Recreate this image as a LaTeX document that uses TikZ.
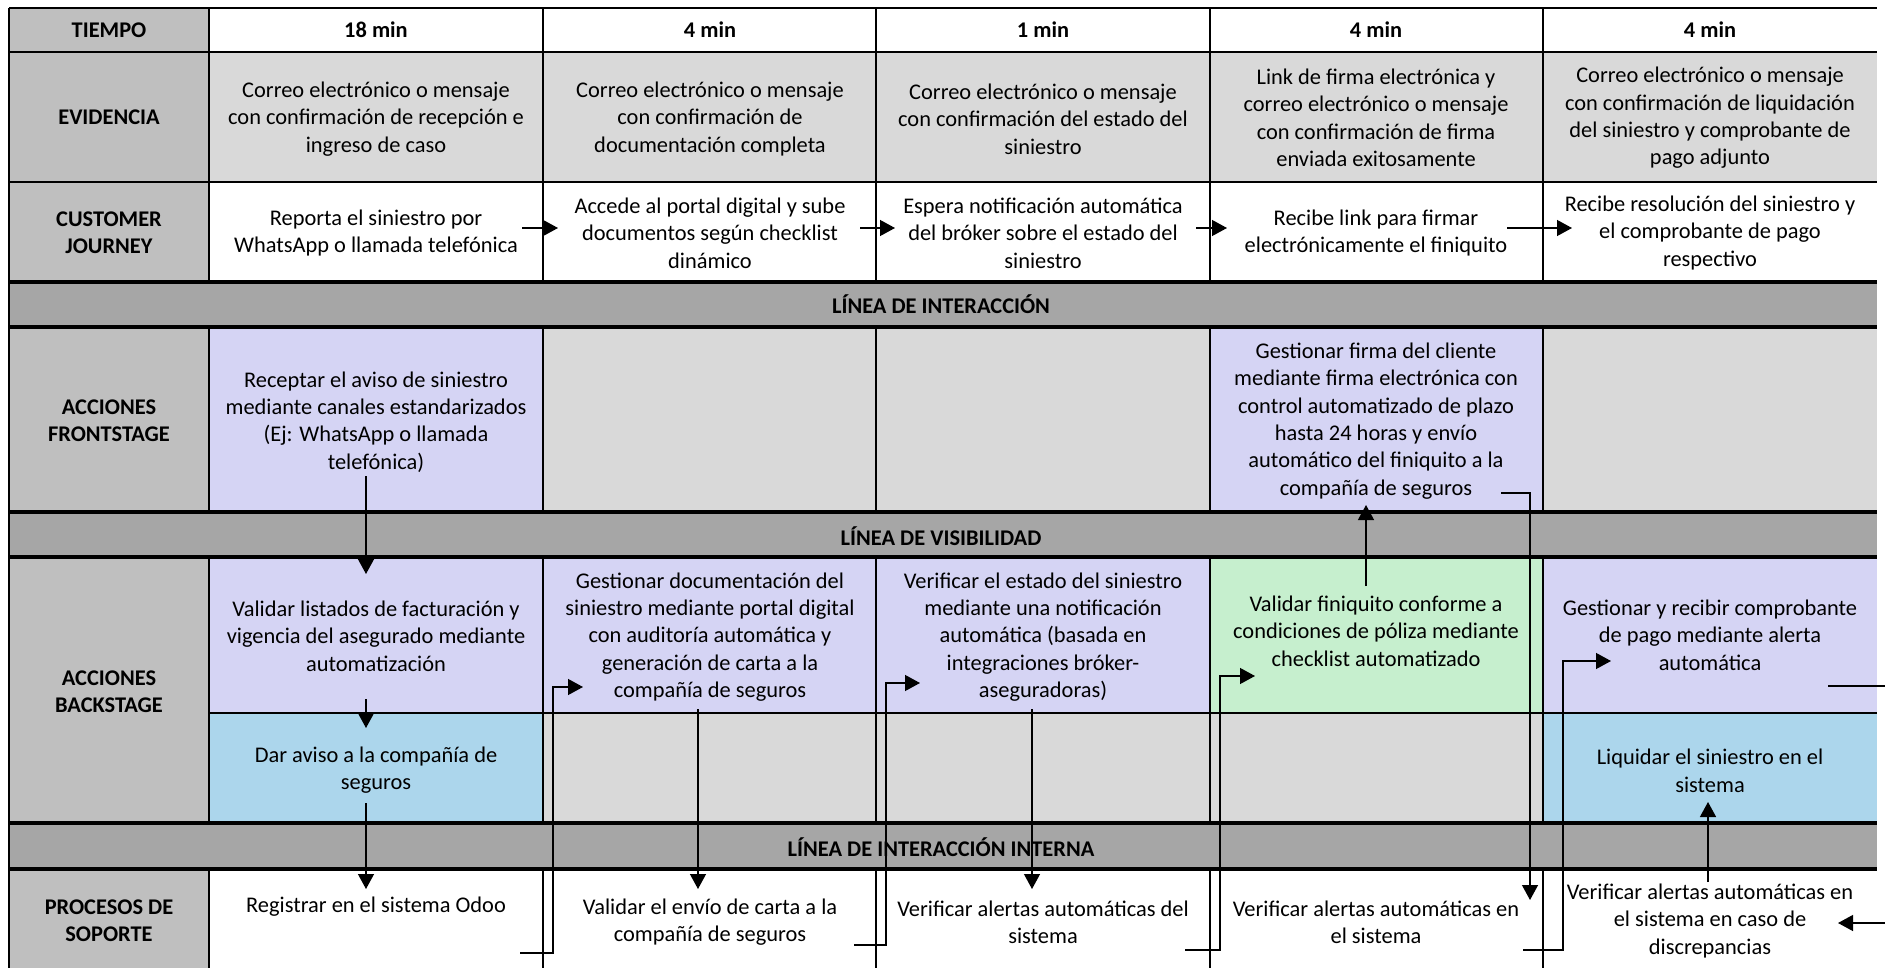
\documentclass[tikz,border=0pt]{standalone}
\usepackage{fontspec}
\setmainfont{Carlito}
\usetikzlibrary{arrows.meta,calc}

\definecolor{rotulo}{RGB}{191,191,191}
\definecolor{franja}{RGB}{166,166,166}
\definecolor{gris}{RGB}{217,217,217}
\definecolor{lila}{RGB}{213,212,244}
\definecolor{verde}{RGB}{198,239,206}
\definecolor{celeste}{RGB}{172,214,236}

\begin{document}
\begin{tikzpicture}[x=0.5pt, y=-0.5pt,
  txt/.style={align=center, inner sep=0pt, font=\fontsize{11.2}{13.7}\selectfont},
  tit/.style={txt, font=\fontsize{11.2}{13.7}\selectfont\bfseries},
  linea/.style={line width=1pt},
  borde/.style={line width=1.6pt},
  flecha/.style={line width=0.65pt, -{Triangle[length=7.5pt,width=8pt]}}]

\useasboundingbox (0,0) rectangle (1885,968);
\clip (0,0) rectangle (1885,968);

\fill[rotulo] (9,8) rectangle (209,975);
\fill[gris] (209,52) rectangle (1877,182);
\fill[lila] (209,327) rectangle (543,512);
\fill[gris] (543,327) rectangle (1210,512);
\fill[lila] (1210,327) rectangle (1543,512);
\fill[gris] (1543,327) rectangle (1877,512);
\fill[lila] (209,557) rectangle (1210,713);
\fill[verde] (1210,557) rectangle (1543,713);
\fill[lila] (1543,557) rectangle (1877,713);
\fill[celeste] (209,713) rectangle (543,823);
\fill[gris] (543,713) rectangle (1543,823);
\fill[celeste] (1543,713) rectangle (1877,823);
\foreach \y in {282,512,823} \fill[franja] (9,\y) rectangle (1877,\y+45);

\foreach \x in {209,543,876,1210,1543} {
  \draw[linea] (\x,8) -- (\x,282);
  \draw[linea] (\x,327) -- (\x,512);
  \draw[linea] (\x,557) -- (\x,823);
  \draw[linea] (\x,869) -- (\x,975);
}
\draw[linea] (9,8) -- (9,975);
\draw[line width=1.2pt] (9,8) -- (1877,8);
\draw[linea] (9,52) -- (1877,52);
\draw[linea] (9,182) -- (1877,182);
\draw[line width=0.7pt] (209,713) -- (1877,713);
\foreach \y in {282,327,512,557,823,869} \draw[borde] (9,\y) -- (1877,\y);

\node[tit] (lt) at (109,30) {TIEMPO};
\node[tit] (le) at (109,117) {EVIDENCIA};
\node[tit] (lj) at (109,233) {CUSTOMER\\JOURNEY};
\node[tit] (lf) at (109,421) {ACCIONES\\FRONTSTAGE};
\node[tit] (lb) at (109,692) {ACCIONES\\BACKSTAGE};
\node[tit] (ls) at (109,921) {PROCESOS DE\\SOPORTE};

\node[tit] (li) at (941,304) {LÍNEA DE INTERACCIÓN};
\node[tit] (lv) at (941,536) {LÍNEA DE VISIBILIDAD};
\node[tit] (lii) at (941,847) {LÍNEA DE INTERACCIÓN INTERNA};

\node[tit] (t1) at (376,30) {18 min};
\node[tit] (t2) at (710,30) {4 min};
\node[tit] (t3) at (1043,30) {1 min};
\node[tit] (t4) at (1376,30) {4 min};
\node[tit] (t5) at (1710,30) {4 min};

\node[txt] (ev1) at (376,119) {Correo electrónico o mensaje\\con confirmación de recepción e\\ingreso de caso};
\node[txt] (ev2) at (710,119) {Correo electrónico o mensaje\\con confirmación de\\documentación completa};
\node[txt] (ev3) at (1043,119) {Correo electrónico o mensaje\\con confirmación del estado del\\siniestro};
\node[txt] (ev4) at (1376,118) {Link de firma electrónica y\\correo electrónico o mensaje\\con confirmación de firma\\enviada exitosamente};
\node[txt] (ev5) at (1710,118) {Correo electrónico o mensaje\\con confirmación de liquidación\\del siniestro y comprobante de\\pago adjunto};

\node[txt] (cj1) at (376,233) {Reporta el siniestro por\\WhatsApp o llamada telefónica};
\node[txt] (cj2) at (710,233) {Accede al portal digital y sube\\documentos según checklist\\dinámico};
\node[txt] (cj3) at (1043,233) {Espera notificación automática\\del bróker sobre el estado del\\siniestro};
\node[txt] (cj4) at (1376,233) {Recibe link para firmar\\electrónicamente el finiquito};
\node[txt] (cj5) at (1710,233) {Recibe resolución del siniestro y\\el comprobante de pago\\respectivo};

\node[txt] (fr1) at (376,422) {Receptar el aviso de siniestro\\mediante canales estandarizados\\(Ej: WhatsApp o llamada\\telefónica)};
\node[txt] (fr4) at (1376,421) {Gestionar firma del cliente\\mediante firma electrónica con\\control automatizado de plazo\\hasta 24 horas y envío\\automático del finiquito a la\\compañía de seguros};

\node[txt] (bk1) at (376,636) {Validar listados de facturación y\\vigencia del asegurado mediante\\automatización};
\node[txt] (bk2) at (710,637) {Gestionar documentación del\\siniestro mediante portal digital\\con auditoría automática y\\generación de carta a la\\compañía de seguros};
\node[txt] (bk3) at (1043,637) {Verificar el estado del siniestro\\mediante una notificación\\automática (basada en\\integraciones bróker-\\aseguradoras)};
\node[txt] (bk4) at (1376,631) {Validar finiquito conforme a\\condiciones de póliza mediante\\checklist automatizado};
\node[txt] (bk5) at (1710,635) {Gestionar y recibir comprobante\\de pago mediante alerta\\automática};
\node[txt] (bb1) at (376,770) {Dar aviso a la compañía de\\seguros};
\node[txt] (bb5) at (1710,771) {Liquidar el siniestro en el\\sistema};

\node[txt] (sp1) at (376,907) {Registrar en el sistema Odoo};
\node[txt] (sp2) at (710,922) {Validar el envío de carta a la\\compañía de seguros};
\node[txt] (sp3) at (1043,922) {Verificar alertas automáticas del\\sistema};
\node[txt] (sp4) at (1376,922) {Verificar alertas automáticas en\\el sistema};
\node[txt] (sp5) at (1710,921) {Verificar alertas automáticas en\\el sistema en caso de\\discrepancias};

\draw[flecha] ($(cj1)+(146,-5)$) -- ($(cj2)+(-152,-5)$);
\draw[flecha] ($(cj2)+(150,-5)$) -- ($(cj3)+(-148,-5)$);
\draw[flecha] ($(cj3)+(153,-5)$) -- ($(cj4)+(-149,-5)$);
\draw[flecha] ($(cj4)+(131,-5)$) -- ($(cj5)+(-138,-5)$);

\draw[flecha] ($(fr1)+(-10,54)$) -- ($(bk1)+(-10,-62)$);
\draw[flecha] ($(bk1)+(-10,63)$) -- ($(bb1)+(-10,-42)$);
\draw[flecha] ($(bb1)+(-10,33)$) -- ($(sp1)+(-10,-18)$);
\draw[flecha] ($(sp1)+(144,46)$) -| ($(bk2)+(-157,50)$) -- ($(bk2)+(-127,50)$);
\draw[flecha] ($(bk2)+(-12,72)$) -- ($(sp2)+(-12,-33)$);
\draw[flecha] ($(sp2)+(144,23)$) -| ($(bk3)+(-157,46)$) -- ($(bk3)+(-123,46)$);
\draw[flecha] ($(bk3)+(-11,72)$) -- ($(sp3)+(-11,-33)$);
\draw[flecha] ($(sp3)+(142,28)$) -| ($(bk4)+(-156,45)$) -- ($(bk4)+(-121,45)$);
\draw[flecha] ($(bk4)+(-10,-45)$) -- ($(fr4)+(-10,84)$);
\draw[flecha] ($(fr4)+(125,72)$) -| ($(sp4)+(154,-22)$);
\draw[flecha] ($(sp4)+(147,28)$) -| ($(bk5)+(-147,26)$) -- ($(bk5)+(-99,26)$);
\draw[flecha] ($(bk5)+(118,51)$) -- ++(80,0) |- ($(sp5)+(128,2)$);
\draw[flecha] ($(sp5)+(-2,-39)$) -- ($(bb5)+(-2,31)$);

\end{tikzpicture}
\end{document}
